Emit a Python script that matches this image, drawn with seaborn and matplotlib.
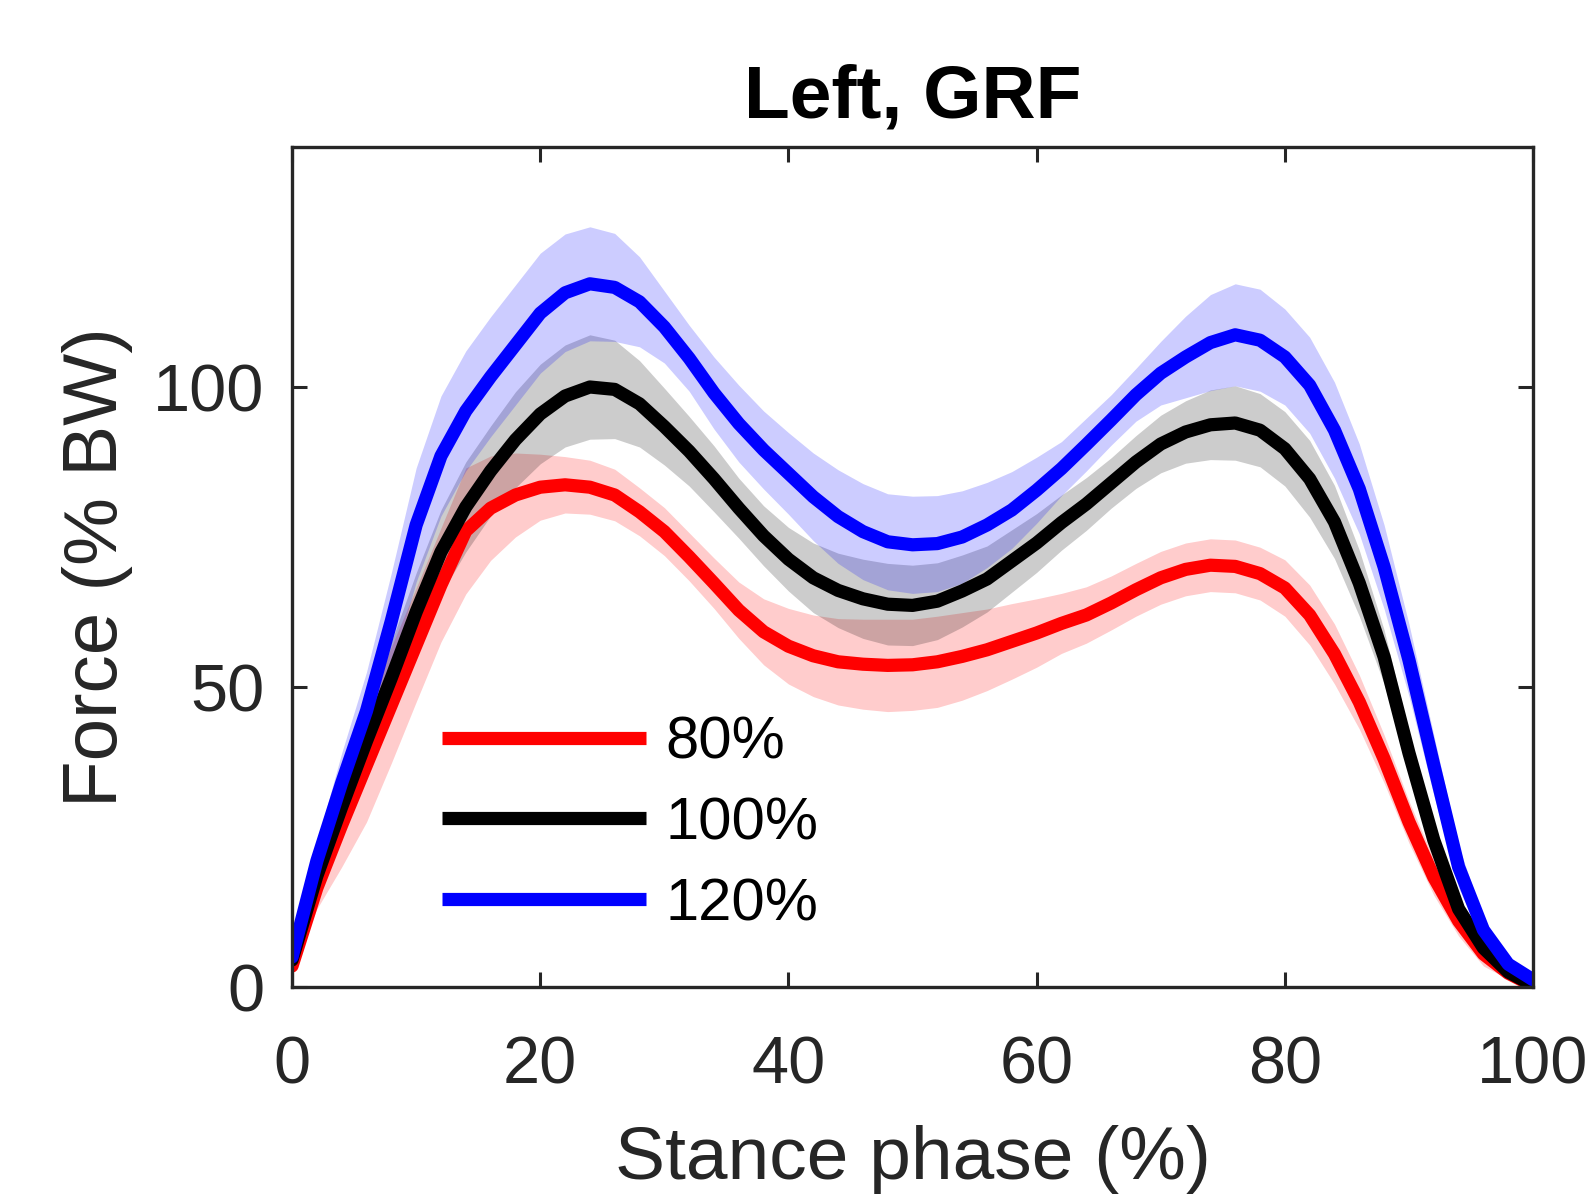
import numpy as np
import pandas as pd
import matplotlib
matplotlib.use("Agg")
import matplotlib.pyplot as plt
import seaborn as sns

# ---- data ----
stance = list(range(0, 101, 2))

red_mean = [3.5, 16.5, 27, 37, 47, 57, 67, 76, 79.8, 82, 83.3, 83.7, 83.3, 82, 79.2, 75.9, 71.7, 67.3, 62.8, 59.2,
            56.8, 55.2, 54.2, 53.8, 53.6, 53.7, 54.2, 55.1, 56.2, 57.6, 59, 60.6, 62, 64, 66.2, 68.2, 69.6, 70.3, 70.1, 68.9,
            66.5, 62, 55.5, 47.5, 38, 27.5, 18.3, 11, 5.5, 2.3, 0.2]
red_sd = [0.5, 3.5, 7, 9.5, 9.7, 9.5, 9.5, 10.5, 8.7, 7, 5.5, 4.7, 4.5, 4.3, 4, 4, 4, 4.2, 4.7, 5.5,
          6.3, 6.8, 7.2, 7.5, 7.7, 7.6, 7.6, 7.3, 6.8, 6.3, 5.7, 5, 4.7, 4.5, 4.4, 4.4, 4.4, 4.4, 4.4, 4.4,
          4.7, 5, 5, 4.5, 4, 3.5, 3, 2.5, 2, 1, 0.5]

black_mean = [4.5, 18.5, 30, 41, 51.5, 62.5, 72.5, 80, 86, 91.2, 95.5, 98.5, 100, 99.6, 97.2, 93.4, 89.3, 84.7, 79.8, 75.2,
              71.3, 68.2, 66.1, 64.7, 63.8, 63.6, 64.3, 66, 68, 71, 74, 77.4, 80.5, 84, 87.5, 90.5, 92.5, 93.7, 94, 92.8,
              89.7, 84.7, 77.5, 67.3, 55, 39, 24.5, 13, 6.5, 2.5, 0.3]
black_sd = [0.5, 2, 3.5, 5, 6, 6.5, 7, 7.5, 7.5, 8, 8.3, 8.5, 8.7, 8.2, 7.2, 6.4, 5.8, 5.5, 5, 5,
            5.3, 5.8, 6.2, 6.6, 6.8, 6.7, 6.4, 6, 5.5, 5.2, 4.9, 4.6, 4.4, 4.2, 4.4, 4.8, 5.2, 5.8, 6.2, 6.1,
            6.2, 6.4, 6.1, 5.5, 4.5, 3.5, 3, 2, 1.5, 1, 0.5]

blue_mean = [5, 21, 34, 46, 61, 77, 88.5, 96, 101.7, 107, 112.3, 115.7, 117.2, 116.6, 114.2, 110, 104.8, 99, 93.9, 89.5,
             85.6, 81.7, 78.4, 75.9, 74.2, 73.7, 73.9, 75, 77, 79.5, 82.8, 86.4, 90.4, 94.5, 98.7, 102.3, 105, 107.4, 108.7, 107.8,
             105, 100.3, 92.8, 83, 70, 54.5, 37, 20, 9.5, 3.8, 1.2]
blue_sd = [1, 3, 5, 6.5, 8, 9.5, 10, 10, 10, 10, 10, 9.8, 9.5, 9, 7.5, 6, 5.5, 6, 6.4, 6.5,
           6.8, 7.3, 7.8, 8, 8, 8.1, 8, 7.7, 7.1, 6.4, 5.5, 4.5, 4.4, 4.2, 4.4, 5.3, 6.8, 8, 8.5, 8.5,
           8, 8, 8, 7.5, 7, 6, 5, 3.5, 2, 1, 0.5]

labels = ["80%", "100%", "120%"]
colors = ["#FF0000", "#000000", "#0000FF"]
xticks = [0, 20, 40, 60, 80, 100]
yticks = [0, 50, 100]

# ---- style ----
sns.set_style("ticks")
plt.rcParams['font.family'] = ['Liberation Sans', 'DejaVu Sans']

fig = plt.figure(figsize=(15.88, 12), dpi=100)
ax = fig.add_axes([0.1839, 0.1775, 0.7815, 0.70])

series = [(labels[0], red_mean, red_sd, colors[0]),
          (labels[1], black_mean, black_sd, colors[1]),
          (labels[2], blue_mean, blue_sd, colors[2])]

x = np.array(stance, dtype=float)
for name, m, s, c in series:
    m = np.array(m, dtype=float)
    s = np.array(s, dtype=float)
    ax.fill_between(x, m - s, m + s, color=c, alpha=0.2, linewidth=0)
    df = pd.DataFrame({"stance": x, "force": m})
    sns.lineplot(data=df, x="stance", y="force", color=c, lw=9.5, ax=ax,
                 label=name, sort=False, errorbar=None)

ax.set_xlim(0, 100)
ax.set_ylim(0, 140)
ax.set_xticks(xticks)
ax.set_yticks(yticks)
ax.set_xticklabels([str(t) for t in xticks])
ax.set_yticklabels([str(t) for t in yticks])

tc = "#262626"
ax.tick_params(axis='both', direction='in', length=11, width=2.2, top=True, right=True,
               labelsize=48, colors=tc)
ax.tick_params(axis='x', pad=35)
ax.tick_params(axis='y', pad=20)
for sp in ax.spines.values():
    sp.set_visible(True)
    sp.set_color(tc)
    sp.set_linewidth(2.4)

ax.set_xlabel("Stance phase (%)", fontsize=54, color=tc, labelpad=20)
ax.set_ylabel("Force (% BW)", fontsize=55, color=tc, labelpad=14)
ax.set_title("Left, GRF", fontsize=54, fontweight='bold', color='black', pad=21)

leg = ax.legend(loc='upper left', bbox_to_anchor=(0.121, 0.323), frameon=False, fontsize=43,
                handlelength=3.42, handletextpad=0.32, labelspacing=0.43, borderpad=0,
                borderaxespad=0, labelcolor='black')
for h in leg.get_lines():
    h.set_linewidth(9.5)
    h.set_solid_capstyle('butt')

fig.savefig("out.png", dpi=100)
